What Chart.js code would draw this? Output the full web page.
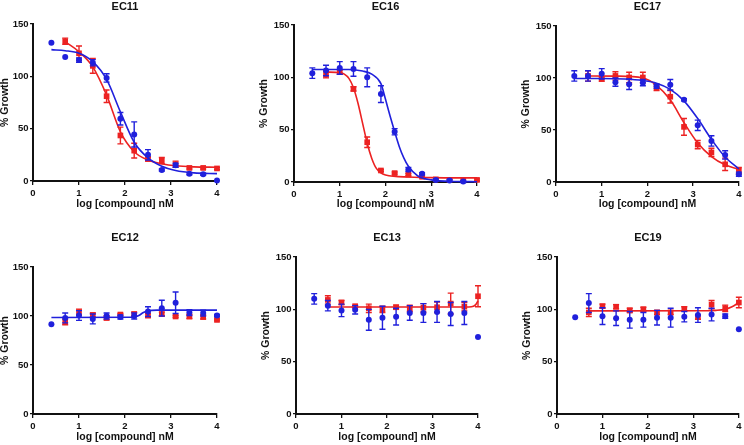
<!DOCTYPE html>
<html><head><meta charset="utf-8">
<script src="https://cdn.jsdelivr.net/npm/chart.js@4.4.1/dist/chart.umd.min.js"></script>
<style>
html,body{margin:0;padding:0;background:#fff;overflow:hidden;width:744px;height:445px;position:relative}
.p{position:absolute}
</style></head><body>
<script>
// ---------- DATA ----------
const doseLog = [0.4, 0.7, 1.0, 1.3, 1.6, 1.9, 2.2, 2.5, 2.8, 3.1, 3.4, 3.7, 4.0];
const xTickValues = [0, 1, 2, 3, 4];
const yTickValues = [0, 50, 100, 150];
const xAxisTitle = 'log [compound] nM';
const yAxisTitle = '% Growth';

// EC11
const ec11Blue    = [132, 118.5, 115.5, 113, 98.5, 59.5, 44.5, 25, 10.5, 15, 7, 6.5, 0.5];
const ec11BlueErr = [0, 0, 2, 3, 4, 6, 12, 5, 1, 2, 1, 1, 0];
const ec11Red     = [null, 133.5, 122, 110, 81, 43.5, 29, 21, 19.5, 16, 12.5, 12.5, 12];
const ec11RedErr  = [0, 3, 7, 7, 6, 8, 7, 2, 3, 3, 1, 1, 1];
const ec11BlueFitX = [0.4, 0.7, 1.0, 1.3, 1.6, 1.9, 2.2, 2.5, 2.8, 3.1, 3.5, 4.0];
const ec11BlueFitY = [125.5, 124.5, 122, 114, 97, 66, 37, 22, 14, 10, 7.8, 7];
const ec11RedFitX  = [0.7, 1.0, 1.3, 1.6, 1.9, 2.2, 2.5, 2.8, 3.1, 3.5, 4.0];
const ec11RedFitY  = [133, 123.5, 109, 82, 47, 28, 20, 16.5, 14.5, 13.5, 13.2];

// EC16
const ec16Blue    = [104, 106.5, 109, 108, 100, 84, 48, 12, 8, 2, 1.5, 0.5, null];
const ec16BlueErr = [5, 5, 6, 7, 9, 8, 3, 2, 1, 1, 1, 1, 0];
const ec16Red     = [null, 102.5, 105, 89, 38, 11, 8.5, 7, 5, 2.5, 2, 2, 2];
const ec16RedErr  = [0, 3, 2, 2, 5, 1, 1, 1, 1, 0, 0, 0, 1];
const ec16BlueFitX = [0.4, 1.2, 1.5, 1.7, 1.9, 2.0, 2.1, 2.2, 2.3, 2.4, 2.5, 2.7, 3.0, 3.5, 4.0];
const ec16BlueFitY = [107.5, 107.5, 106, 103, 94, 79, 63, 48, 34, 23, 15, 6, 2, 0.5, 0.3];
const ec16RedFitX  = [0.7, 1.0, 1.1, 1.2, 1.3, 1.4, 1.5, 1.6, 1.7, 1.8, 2.0, 2.5, 3.0, 4.0];
const ec16RedFitY  = [105, 104.5, 103, 99, 90, 75, 56, 37, 22.5, 13, 6.7, 4.8, 4.2, 3.9];

// EC17
const ec17Blue    = [102, 102, 104, 96, 94, 95.5, 92, 93.5, 79, 54.5, 39.5, 26, 7.5];
const ec17BlueErr = [5, 5, 5, 4, 5, 3, 2, 5, 1, 5, 5, 4, 2];
const ec17Red     = [null, 102, 99, 102, 100.5, 100.5, 91, 82, 53, 36, 28.5, 17, 11];
const ec17RedErr  = [0, 5, 2, 4, 5, 5, 3, 6, 8, 4, 4, 6, 3];
const ec17BlueFitX = [0.4, 1.0, 1.5, 1.9, 2.2, 2.5, 2.8, 3.1, 3.4, 3.7, 4.0];
const ec17BlueFitY = [99.5, 99.5, 99, 97.5, 95, 89, 78, 61, 41, 24, 12.5];
const ec17RedFitX  = [0.7, 1.3, 1.9, 2.2, 2.5, 2.8, 3.1, 3.4, 3.7, 4.0];
const ec17RedFitY  = [102, 101.8, 100, 93, 79, 57, 37.5, 24.5, 16.5, 12];

// EC12
const ec12Blue    = [91.5, 98, 100.5, 97, 100, 99, 100, 104.5, 108, 113.5, 103.5, 103, 100.5];
const ec12BlueErr = [0, 5, 5, 5, 3, 2, 3, 5, 8, 11, 3, 3, 1];
const ec12Red     = [null, 94, 104, 101, 98, 101.5, 102, 100.5, 102, 99.5, 99.5, 99, 96];
const ec12RedErr  = [0, 3, 3, 2, 2, 1, 2, 2, 2, 1, 2, 2, 1];
const ec12BlueFitX = [0.4, 2.2, 2.3, 2.4, 2.5, 2.7, 4.0];
const ec12BlueFitY = [98.5, 98.8, 100.5, 103.5, 105.3, 106, 106];

// EC13
const ec13Blue    = [110, 103.5, 99, 99.5, 90, 92, 93, 96.5, 96.5, 97.5, 95.5, 96.5, 73.5];
const ec13BlueErr = [5, 5, 6, 4, 10, 11, 8, 7, 9, 10, 11, 11, 0];
const ec13Red     = [null, 109, 106.5, 103, 101, 100, 102, 101, 101.5, 102, 105.5, 102.5, 112.5];
const ec13RedErr  = [0, 4, 2, 1, 4, 3, 2, 3, 4, 5, 10, 4, 10];
const ec13RedFitX = [0.7, 3.8, 3.9, 3.95, 4.0];
const ec13RedFitY = [102.3, 102.3, 103, 104.5, 108];

// EC19
const ec19Blue    = [92.5, 106, 93.5, 91.5, 90, 90, 92, 92, 93, 94.5, 95, 93.5, 81];
const ec19BlueErr = [0, 9, 8, 7, 8, 7, 7, 9, 5, 7, 6, 2, 0];
const ec19Red     = [null, 97, 103, 102.5, 99, 100, 97, 97, 100.5, 92.5, 104.5, 101, 106.5];
const ec19RedErr  = [0, 4, 2, 2, 2, 2, 2, 2, 2, 2, 4, 3, 5];
const ec19RedFitX = [0.7, 3.3, 3.5, 3.7, 3.85, 4.0];
const ec19RedFitY = [98.5, 98.6, 99, 100.2, 102.5, 106.5];

// ---------- STYLE / LAYOUT ----------
const BLUE = '#2020dc';
const RED = '#ec2222';
const FONT = "'Liberation Sans', Arial, sans-serif";

const panels = [
  {title:'EC11', box:[0,0,240,215], plot:[33,24,217,181], titleY:7, yTitleX:5.5, xTitleY:204.5,
   blue:ec11Blue, blueErr:ec11BlueErr, red:ec11Red, redErr:ec11RedErr,
   blueFit:[ec11BlueFitX, ec11BlueFitY], redFit:[ec11RedFitX, ec11RedFitY]},
  {title:'EC16', box:[248,0,240,215], plot:[294,25,477,182], titleY:7, yTitleX:264, xTitleY:204.5,
   blue:ec16Blue, blueErr:ec16BlueErr, red:ec16Red, redErr:ec16RedErr,
   blueFit:[ec16BlueFitX, ec16BlueFitY], redFit:[ec16RedFitX, ec16RedFitY]},
  {title:'EC17', box:[520,0,224,215], plot:[556,26,740,182], titleY:7.3, yTitleX:526, xTitleY:204.5,
   blue:ec17Blue, blueErr:ec17BlueErr, red:ec17Red, redErr:ec17RedErr,
   blueFit:[ec17BlueFitX, ec17BlueFitY], redFit:[ec17RedFitX, ec17RedFitY]},
  {title:'EC12', box:[0,225,240,220], plot:[33,267,217,414], titleY:238.3, yTitleX:5.5, xTitleY:437,
   blue:ec12Blue, blueErr:ec12BlueErr, red:ec12Red, redErr:ec12RedErr,
   blueFit:[ec12BlueFitX, ec12BlueFitY], redFit:null},
  {title:'EC13', box:[248,225,240,220], plot:[296,257,478,414], titleY:238.3, yTitleX:266, xTitleY:437,
   blue:ec13Blue, blueErr:ec13BlueErr, red:ec13Red, redErr:ec13RedErr,
   blueFit:null, redFit:[ec13RedFitX, ec13RedFitY]},
  {title:'EC19', box:[520,225,224,220], plot:[557,257,740,414], titleY:238.3, yTitleX:527, xTitleY:437,
   blue:ec19Blue, blueErr:ec19BlueErr, red:ec19Red, redErr:ec19RedErr,
   blueFit:null, redFit:[ec19RedFitX, ec19RedFitY]}
];

const errorBarPlugin = {
  id: 'errorBars',
  beforeDatasetDraw(chart, args) {
    const ds = chart.data.datasets[args.index];
    if (!ds.errors) return;
    const {ctx} = chart;
    const xs = chart.scales.x, ys = chart.scales.y;
    ctx.save();
    ctx.strokeStyle = ds.borderColor;
    ctx.lineWidth = 1.4;
    ds.data.forEach((p, i) => {
      const e = ds.errors[i];
      if (p.y == null || !e) return;
      const px = xs.getPixelForValue(p.x);
      const t = ys.getPixelForValue(p.y + e);
      const b = ys.getPixelForValue(p.y - e);
      ctx.beginPath();
      ctx.moveTo(px, t); ctx.lineTo(px, b);
      ctx.moveTo(px - 3, t); ctx.lineTo(px + 3, t);
      ctx.moveTo(px - 3, b); ctx.lineTo(px + 3, b);
      ctx.stroke();
    });
    ctx.restore();
  }
};

function pts(xs, ys) { return xs.map((x, i) => ({x, y: ys[i]})); }

panels.forEach(p => {
  const [bl, bt, bw, bh] = p.box;
  const [pl, pt, pr, pb] = p.plot;
  const div = document.createElement('div');
  div.className = 'p';
  div.style.left = bl + 'px'; div.style.top = bt + 'px';
  div.style.width = bw + 'px'; div.style.height = bh + 'px';
  const cv = document.createElement('canvas');
  cv.width = bw; cv.height = bh;
  div.appendChild(cv);
  document.body.appendChild(div);

  const yW = pl - bl;
  const topH = pt - bt;
  const padR = bl + bw - pr;
  const padB = 2;
  const xH = (bt + bh) - pb - padB;
  const tSize = 11, tLH = 13;
  const titlePadTop = p.titleY - bt - tLH / 2;
  const titlePadBot = topH - titlePadTop - tLH;
  const axSize = 10.5, axLH = 12.6;
  const yTitlePad = p.yTitleX - bl - axLH / 2;
  const xTitlePadBot = (pb + xH) - p.xTitleY - axLH / 2;

  const datasets = [];
  if (p.redFit) datasets.push({type:'scatter', data: pts(p.redFit[0], p.redFit[1]), showLine:true,
    borderColor: RED, borderWidth:1.6, pointRadius:0, cubicInterpolationMode:'monotone', order:4, clip:false});
  datasets.push({type:'scatter', data: pts(doseLog, p.red), errors: p.redErr, showLine:false,
    borderColor: RED, backgroundColor: RED, pointStyle:'rect', pointRadius:4, pointBorderWidth:0, order:3, clip:false});
  if (p.blueFit) datasets.push({type:'scatter', data: pts(p.blueFit[0], p.blueFit[1]), showLine:true,
    borderColor: BLUE, borderWidth:1.6, pointRadius:0, cubicInterpolationMode:'monotone', order:2, clip:false});
  datasets.push({type:'scatter', data: pts(doseLog, p.blue), errors: p.blueErr, showLine:false,
    borderColor: BLUE, backgroundColor: BLUE, pointStyle:'circle', pointRadius:3, pointBorderWidth:0, order:1, clip:false});

  new Chart(cv, {
    type: 'scatter',
    data: { datasets },
    plugins: [errorBarPlugin],
    options: {
      responsive: false, animation: false, devicePixelRatio: 1,
      layout: { padding: { left: 0, top: 0, right: padR, bottom: padB } },
      plugins: {
        legend: { display: false }, tooltip: { enabled: false },
        title: { display: true, text: p.title, fullSize: false, color: '#111',
          font: { family: FONT, size: tSize, weight: 'bold', lineHeight: tLH / tSize },
          padding: { top: titlePadTop, bottom: titlePadBot } }
      },
      scales: {
        x: {
          type: 'linear', min: 0, max: 4,
          afterFit: s => { s.height = xH; },
          afterBuildTicks: s => { s.ticks = xTickValues.map(v => ({value: v})); },
          border: { display: true, color: '#111', width: 2 },
          grid: { display: true, drawOnChartArea: false, drawTicks: true, tickLength: 4, color: '#111', lineWidth: 1.3 },
          ticks: { color: '#111', padding: 2.5, font: { family: FONT, size: 9.5, weight: 'bold' }, maxRotation: 0 },
          title: { display: true, text: xAxisTitle, color: '#111',
            font: { family: FONT, size: axSize, weight: 'bold', lineHeight: axLH / axSize },
            padding: { top: 0, bottom: xTitlePadBot } }
        },
        y: {
          type: 'linear', min: 0, max: 150,
          afterFit: s => { s.width = yW; },
          afterBuildTicks: s => { s.ticks = yTickValues.map(v => ({value: v})); },
          border: { display: true, color: '#111', width: 2 },
          grid: { display: true, drawOnChartArea: false, drawTicks: true, tickLength: 3, color: '#111', lineWidth: 1.3 },
          ticks: { color: '#111', padding: 1.5, font: { family: FONT, size: 9.5, weight: 'bold' } },
          title: { display: true, text: yAxisTitle, color: '#111',
            font: { family: FONT, size: axSize, weight: 'bold', lineHeight: axLH / axSize },
            padding: { top: yTitlePad, bottom: 0 } }
        }
      }
    }
  });
});
</script>
</body></html>
